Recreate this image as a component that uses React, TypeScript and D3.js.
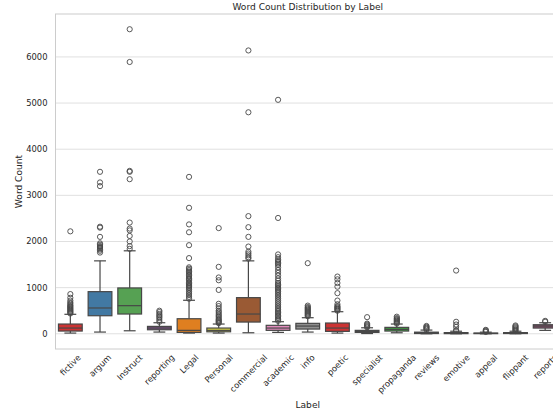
import React from "react";
import * as d3 from "d3";

const labels = ["fictive","argum","Instruct","reporting","Legal","Personal","commercial","academic","info","poetic","specialist","propaganda","reviews","emotive","appeal","flippant","reports"];
const q1 = [59, 391, 428, 87, 30, 43, 254, 74, 102, 52, 30, 59, 5, 3, 3, 5, 124];
const medians = [124, 559, 609, 124, 74, 74, 428, 124, 167, 124, 52, 95, 15, 10, 8, 12, 167];
const q3 = [211, 913, 993, 160, 326, 124, 783, 183, 226, 233, 74, 139, 35, 25, 16, 25, 196];
const whiskerLow = [15, 37, 65, 37, 15, 15, 22, 30, 37, 15, 5, 22, 0, 0, 0, 0, 74];
const whiskerHigh = [422, 1580, 1798, 239, 726, 211, 1580, 261, 348, 478, 130, 211, 80, 55, 35, 55, 239];
const outliers: number[][] = [
  [440,460,480,500,520,540,560,580,600,620,650,680,720,780,860,2220],
  [1760,1800,1830,1860,1880,1900,1930,1960,2100,2300,2320,3200,3280,3510],
  [1840,1900,2000,2120,2240,2280,2410,3350,3510,3530,5890,6600],
  [260,300,340,370,400,430,470,500],
  [760,800,840,880,920,960,990,1020,1040,1060,1090,1110,1150,1180,1200,1230,1260,1290,1320,1350,1380,1410,1440,1640,1920,2200,2370,2730,3400],
  [230,250,270,290,310,340,370,400,430,470,500,550,600,650,950,1160,1220,1450,2290],
  [1630,1660,1700,1740,1780,1890,2100,2310,2550,4800,6140],
  [280,310,340,370,400,430,460,490,520,560,600,640,680,720,760,800,840,880,920,950,980,1010,1040,1070,1100,1150,1200,1260,1320,1380,1440,1490,1520,1550,1580,1610,1660,1720,2510,5070],
  [380,400,420,440,460,480,500,520,540,560,580,610,1530],
  [500,520,540,560,580,600,640,720,880,1020,1100,1180,1240],
  [140,160,180,200,220,360],
  [220,240,260,280,300,320,340,370],
  [90,110,130,150,170],
  [60,80,150,200,260,1370],
  [40,55,70,85],
  [60,80,100,120,140,160,180],
  [260,280],
];
const colors = ["#cc3333","#4279a3","#56a153","#7f4f8a","#df7f20","#d8d442","#9a5a34","#e38bbd","#8f8f8f","#cc3333","#3d4f5f","#3e9a40","#3a4a5c","#4a4a4a","#50505a","#3f3f46","#8b4e6e"];
const yTicks = [0, 1000, 2000, 3000, 4000, 5000, 6000];

const W = 553, H = 411;
const left = 55.5, right = 560, top = 14, bottom = 349;
const FONT = "DejaVu Sans, sans-serif";
const TICK = 8.4;
const LAB = 9.1;

function measure(text: string, size: number): number {
  const c = document.createElement("canvas").getContext("2d");
  if (!c) return text.length * size * 0.6;
  c.font = `${size}px DejaVu Sans`;
  return c.measureText(text).width;
}

export default function App() {
  const x = d3.scaleBand<string>().domain(labels).range([left, right]).padding(0);
  const y = d3.scaleLinear().domain([-330, 6930]).range([bottom, top]);
  const bw = x.bandwidth();
  const boxW = bw * 0.8;
  const line = "#474747";
  return (
    <svg width={W} height={H} style={{ position: "absolute", left: 0, top: 0, fontFamily: FONT }}>
      <rect x={0} y={0} width={W} height={H} fill="#fff" />
      {yTicks.map((t) => (
        <g key={t}>
          <line x1={left} x2={right} y1={y(t)} y2={y(t)} stroke="#e0e0e0" strokeWidth={1} />
          <text x={47.5} y={y(t)} dy="0.35em" textAnchor="end" fontSize={TICK} fill="#262626">{t}</text>
        </g>
      ))}
      <rect x={left} y={top} width={right - left} height={bottom - top} fill="none" stroke="#cccccc" strokeWidth={1} />
      {labels.map((lab, i) => {
        const cx = (x(lab) as number) + bw / 2;
        const c = colors[i];
        return (
          <g key={lab}>
            <line x1={cx} x2={cx} y1={y(q3[i])} y2={y(whiskerHigh[i])} stroke={line} strokeWidth={1.2} />
            <line x1={cx} x2={cx} y1={y(q1[i])} y2={y(whiskerLow[i])} stroke={line} strokeWidth={1.2} />
            <line x1={cx - boxW / 4} x2={cx + boxW / 4} y1={y(whiskerHigh[i])} y2={y(whiskerHigh[i])} stroke={line} strokeWidth={1.2} />
            <line x1={cx - boxW / 4} x2={cx + boxW / 4} y1={y(whiskerLow[i])} y2={y(whiskerLow[i])} stroke={line} strokeWidth={1.2} />
            <rect x={cx - boxW / 2} y={y(q3[i])} width={boxW} height={Math.max(0.5, y(q1[i]) - y(q3[i]))} fill={c} stroke={line} strokeWidth={1.2} />
            <line x1={cx - boxW / 2} x2={cx + boxW / 2} y1={y(medians[i])} y2={y(medians[i])} stroke={line} strokeWidth={1.2} />
            {outliers[i].map((v, j) => (
              <circle key={j} cx={cx} cy={y(v)} r={2.6} fill="none" stroke={line} strokeWidth={0.9} />
            ))}
          </g>
        );
      })}
      {labels.map((lab) => {
        const cx = (x(lab) as number) + bw / 2;
        const w = measure(lab, TICK);
        const h = TICK;
        const bh = (w + h) * Math.SQRT1_2;
        const cy = 353 + bh / 2;
        return (
          <text key={lab} transform={`translate(${cx},${cy}) rotate(-45)`} textAnchor="middle" dominantBaseline="central" fontSize={TICK} fill="#262626">{lab}</text>
        );
      })}
      <text x={(left + right) / 2} y={405} dy="0.35em" textAnchor="middle" fontSize={LAB} fill="#262626">Label</text>
      <text transform={`translate(19,${(top + bottom) / 2}) rotate(-90)`} textAnchor="middle" dy="0.35em" fontSize={LAB} fill="#262626">Word Count</text>
      <text x={(left + right) / 2} y={7} dy="0.35em" textAnchor="middle" fontSize={LAB} fill="#262626">Word Count Distribution by Label</text>
    </svg>
  );
}
